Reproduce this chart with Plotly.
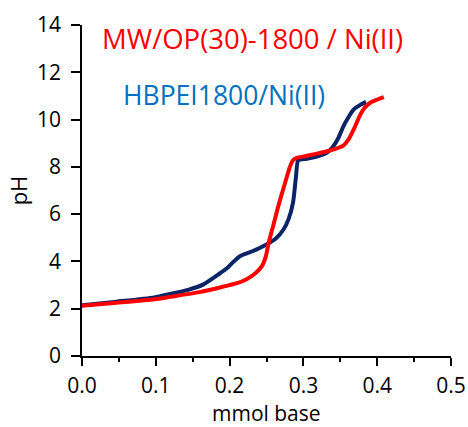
import plotly.graph_objects as go

# HBPEI1800/Ni(II)
blue_x = [0.0, 0.047, 0.098, 0.119, 0.1437, 0.164, 0.187, 0.196, 0.205, 0.214, 0.230, 0.250, 0.263, 0.273, 0.280, 0.286, 0.290, 0.293, 0.302, 0.317, 0.332, 0.340, 0.347, 0.354, 0.361, 0.368, 0.377, 0.385]
blue_y = [2.15, 2.30, 2.48, 2.62, 2.80, 3.02, 3.50, 3.70, 3.98, 4.22, 4.42, 4.72, 4.98, 5.35, 5.80, 6.50, 7.60, 8.28, 8.33, 8.42, 8.60, 8.85, 9.20, 9.70, 10.10, 10.42, 10.62, 10.75]

# MW/OP(30)-1800 / Ni(II)
red_x = [0.0, 0.047, 0.098, 0.119, 0.159, 0.187, 0.210, 0.223, 0.235, 0.244, 0.249, 0.253, 0.259, 0.266, 0.274, 0.282, 0.286, 0.291, 0.302, 0.317, 0.332, 0.342, 0.354, 0.361, 0.368, 0.377, 0.383, 0.390, 0.398, 0.409]
red_y = [2.12, 2.25, 2.40, 2.50, 2.70, 2.90, 3.08, 3.25, 3.50, 3.81, 4.20, 4.79, 5.50, 6.34, 7.20, 8.03, 8.28, 8.38, 8.45, 8.55, 8.66, 8.75, 8.90, 9.15, 9.57, 10.20, 10.50, 10.70, 10.82, 10.95]

x_ticks = [0.0, 0.1, 0.2, 0.3, 0.4, 0.5]
x_tick_labels = ["0.0", "0.1", "0.2", "0.3", "0.4", "0.5"]
y_ticks = [0, 2, 4, 6, 8, 10, 12, 14]

fig = go.Figure()
fig.add_trace(go.Scatter(x=blue_x, y=blue_y, mode="lines",
                         line=dict(color="#0b2466", width=4, shape="spline", smoothing=0.6),
                         name="HBPEI1800/Ni(II)"))
fig.add_trace(go.Scatter(x=red_x, y=red_y, mode="lines",
                         line=dict(color="#ff0000", width=4, shape="spline", smoothing=0.6),
                         name="MW/OP(30)-1800 / Ni(II)"))

font = "Open Sans"
fig.update_layout(
    width=468, height=427,
    margin=dict(l=82, r=17, t=25, b=71),
    paper_bgcolor="white", plot_bgcolor="white",
    showlegend=False,
    font=dict(family=font, color="black"),
    xaxis=dict(range=[0, 0.5], tickvals=x_ticks, ticktext=x_tick_labels, automargin=False,
               ticklabeloverflow="allow", ticklabelstandoff=2,
               showgrid=False, zeroline=False, showline=True, linecolor="black", linewidth=1.5,
               ticks="outside", ticklen=8, tickcolor="black", tickwidth=1.5,
               minor=dict(ticks="outside", ticklen=4, dtick=0.05, tickcolor="black", tickwidth=1.5, showgrid=False),
               tickfont=dict(size=21, family=font)),
    yaxis=dict(range=[0, 14], tickvals=y_ticks, automargin=False,
               ticklabeloverflow="allow", ticklabelstandoff=6,
               showgrid=False, zeroline=False, showline=True, linecolor="black", linewidth=1.5,
               ticks="outside", ticklen=9, tickcolor="black", tickwidth=1.5,
               tickfont=dict(size=21, family=font),
               title=dict(text="pH", font=dict(size=22, family=font), standoff=3)),
    annotations=[
        dict(text="mmol base", x=0.5, y=-0.1726, xref="paper", yref="paper",
             xanchor="center", yanchor="middle", showarrow=False, borderpad=0,
             font=dict(size=21, color="black", family=font)),
        dict(text="MW/OP(30)-1800 / Ni(II)", x=0.0244, y=13.41, xref="x", yref="y",
             xanchor="left", yanchor="middle", showarrow=False,
             font=dict(size=27.5, color="#ff0000", family=font)),
        dict(text="HBPEI1800/Ni(II)", x=0.0528, y=11.05, xref="x", yref="y",
             xanchor="left", yanchor="middle", showarrow=False,
             font=dict(size=26.5, color="#0070c0", family=font)),
    ],
)

fig.write_html("out.html", config={"displayModeBar": False},
               post_script="document.body.style.margin='0';")
